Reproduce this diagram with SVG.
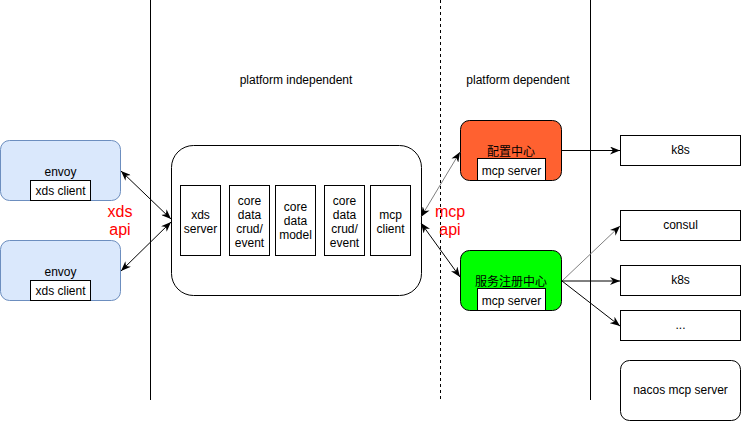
<svg xmlns="http://www.w3.org/2000/svg" width="741" height="421" viewBox="0 0 741 421">
<style>
text{font-family:"Liberation Sans",Arial,"Noto Sans CJK SC",sans-serif;font-size:12px;fill:#000;text-anchor:middle}
.cjk{font-family:"Liberation Sans","Noto Sans CJK SC",sans-serif}
.red{fill:#ff0000;font-size:16px}
.b{fill:#fff;stroke:#000;stroke-width:1}
.env{fill:#dae8fc;stroke:#6c8ebf;stroke-width:1}
.ln{stroke:#000;stroke-width:1;fill:none}
.gr{stroke:#808080;stroke-width:1;fill:none}
</style>
<defs>
<marker id="ah" viewBox="0 0 10 8" refX="10" refY="4" markerWidth="10" markerHeight="8" orient="auto-start-reverse" markerUnits="userSpaceOnUse">
<path d="M0,0 L10,4 L0,8 L3,4 z" fill="#000"/>
</marker>
</defs>
<rect width="741" height="421" fill="#fff"/>
<g id="dividers">
<line x1="150.5" y1="0" x2="150.5" y2="400" class="ln"/>
<line x1="440.5" y1="0" x2="440.5" y2="400" class="ln" stroke-dasharray="3 3"/>
<line x1="590.5" y1="0" x2="590.5" y2="400" class="ln"/>
</g>
<g id="headers">
<text x="296" y="84">platform independent</text>
<text x="518" y="84">platform dependent</text>
</g>
<g id="envoy1">
<rect x="0.5" y="140.5" width="120" height="60" rx="9" class="env"/>
<text x="60.5" y="176">envoy</text>
<rect x="30.5" y="180.5" width="60" height="20" class="b"/>
<text x="60.5" y="195">xds client</text>
</g>
<g id="envoy2">
<rect x="0.5" y="240.5" width="120" height="60" rx="9" class="env"/>
<text x="60.5" y="276">envoy</text>
<rect x="30.5" y="280.5" width="60" height="20" class="b"/>
<text x="60.5" y="295">xds client</text>
</g>
<g id="core">
<rect x="171.5" y="145.5" width="250" height="150" rx="22" class="b"/>
</g>
<g id="xds-server">
<rect x="180.5" y="185.5" width="40" height="70" class="b"/>
<text x="200.5" y="219">xds</text>
<text x="200.5" y="233">server</text>
</g>
<g id="crud1">
<rect x="229.5" y="185.5" width="40" height="70" class="b"/>
<text x="249.5" y="205">core</text>
<text x="249.5" y="219">data</text>
<text x="249.5" y="233">crud/</text>
<text x="249.5" y="247">event</text>
</g>
<g id="model">
<rect x="275.5" y="185.5" width="40" height="70" class="b"/>
<text x="295.5" y="211">core</text>
<text x="295.5" y="225">data</text>
<text x="295.5" y="239">model</text>
</g>
<g id="crud2">
<rect x="324.5" y="185.5" width="40" height="70" class="b"/>
<text x="344.5" y="205">core</text>
<text x="344.5" y="219">data</text>
<text x="344.5" y="233">crud/</text>
<text x="344.5" y="247">event</text>
</g>
<g id="mcp-client">
<rect x="370.5" y="185.5" width="40" height="70" class="b"/>
<text x="390.5" y="219">mcp</text>
<text x="390.5" y="233">client</text>
</g>
<g id="config-center">
<rect x="460.5" y="120.5" width="101" height="60" rx="9" fill="#ff6130" stroke="#000"/>
<text x="511" y="155.5" class="cjk">配置中心</text>
<rect x="477.5" y="158.5" width="68" height="22" class="b"/>
<text x="511.5" y="175">mcp server</text>
</g>
<g id="registry-center">
<rect x="460.5" y="250.5" width="101" height="60" rx="9" fill="#00ff00" stroke="#000"/>
<text x="511" y="285.5" class="cjk">服务注册中心</text>
<rect x="477.5" y="288.5" width="68" height="22" class="b"/>
<text x="511.5" y="305">mcp server</text>
</g>
<g id="k8s1">
<rect x="620.5" y="135.5" width="120" height="30" class="b"/>
<text x="680.5" y="154">k8s</text>
</g>
<g id="consul">
<rect x="620.5" y="210.5" width="120" height="30" class="b"/>
<text x="680.5" y="229">consul</text>
</g>
<g id="k8s2">
<rect x="620.5" y="265.5" width="120" height="30" class="b"/>
<text x="680.5" y="284">k8s</text>
</g>
<g id="more">
<rect x="620.5" y="310.5" width="120" height="30" class="b"/>
<text x="680.5" y="329">...</text>
</g>
<g id="nacos">
<rect x="620.5" y="360.5" width="120" height="60" rx="9" class="b"/>
<text x="680.5" y="394">nacos mcp server</text>
</g>
<g id="connectors">
<line x1="121" y1="171" x2="171" y2="219" class="ln" marker-start="url(#ah)" marker-end="url(#ah)"/>
<line x1="121" y1="271" x2="171" y2="222" class="ln" marker-start="url(#ah)" marker-end="url(#ah)"/>
<line x1="421" y1="217" x2="460" y2="152" class="gr" marker-start="url(#ah)" marker-end="url(#ah)"/>
<line x1="421" y1="223" x2="460" y2="277" class="ln" marker-start="url(#ah)" marker-end="url(#ah)"/>
<line x1="562" y1="150.5" x2="620" y2="150.5" class="ln" marker-end="url(#ah)"/>
<line x1="562" y1="281" x2="620" y2="226" class="gr" marker-end="url(#ah)"/>
<line x1="562" y1="281" x2="620" y2="281" class="ln" marker-end="url(#ah)"/>
<line x1="562" y1="281" x2="620" y2="326" class="ln" marker-end="url(#ah)"/>
</g>
<g id="labels">
<text x="120" y="217" class="red">xds</text>
<text x="120" y="235" class="red">api</text>
<text x="450" y="217" class="red">mcp</text>
<text x="450" y="235" class="red">api</text>
</g>
</svg>
